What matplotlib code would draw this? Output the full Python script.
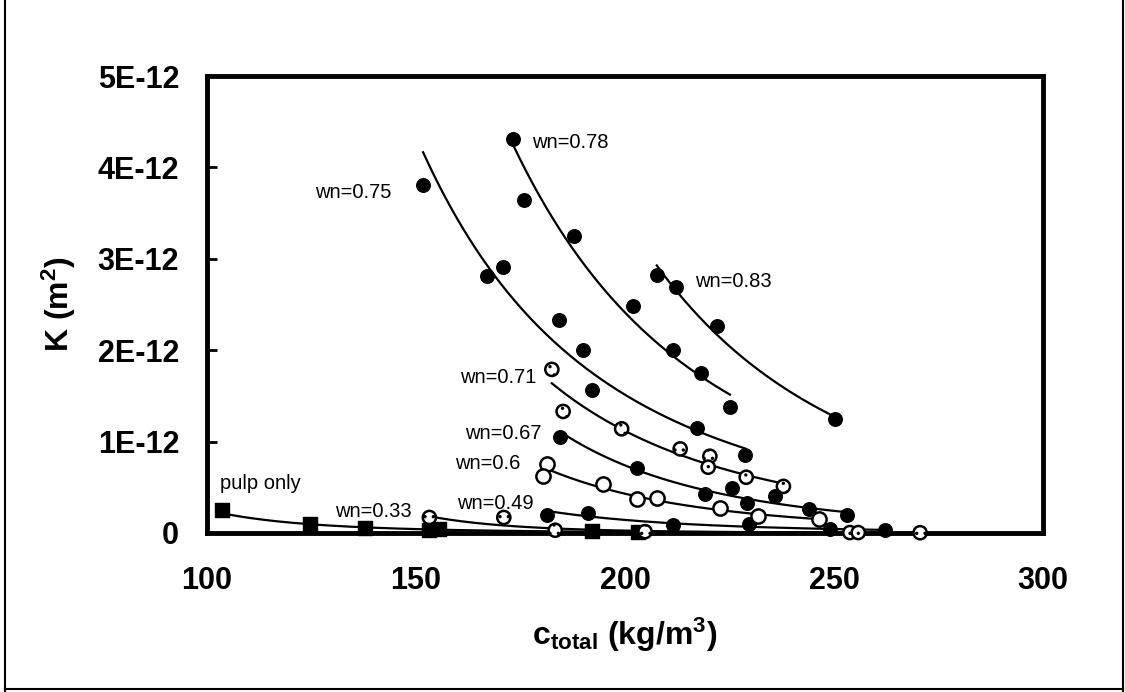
import numpy as np
import matplotlib
matplotlib.use('Agg')
import matplotlib.pyplot as plt
from matplotlib.lines import Line2D

plt.rcParams['font.family'] = ['Liberation Sans', 'DejaVu Sans']
plt.rcParams['mathtext.fontset'] = 'custom'
plt.rcParams['mathtext.rm'] = 'Liberation Sans:bold'
plt.rcParams['mathtext.bf'] = 'Liberation Sans:bold'
plt.rcParams['mathtext.it'] = 'Liberation Sans:bold'
plt.rcParams['mathtext.default'] = 'bf'
plt.rcParams['hatch.linewidth'] = 1.2

# ---- data: c_total (kg/m^3) and K (x 1e-12 m^2) ----
x_pulp = [103.5, 124.6, 137.8, 153.0, 155.5, 192.0, 203.0]
k_pulp = [0.25, 0.10, 0.05, 0.03, 0.04, 0.02, 0.01]

x_033 = [153.2, 171.0, 183.3, 204.8, 253.8, 255.8, 270.6]
k_033 = [0.17, 0.17, 0.03, 0.015, 0.005, 0.005, 0.003]

x_049 = [181.3, 191.1, 211.6, 229.6, 249.0, 262.2]
k_049 = [0.20, 0.22, 0.09, 0.10, 0.04, 0.03]

x_060 = [181.3, 180.5, 194.8, 202.8, 207.7, 222.7, 231.8, 246.3]
k_060 = [0.76, 0.62, 0.54, 0.37, 0.38, 0.27, 0.19, 0.15]

x_067 = [184.4, 202.8, 219.1, 225.5, 229.1, 235.9, 243.9, 253.0]
k_067 = [1.05, 0.71, 0.43, 0.49, 0.33, 0.41, 0.26, 0.20]

x_071 = [182.5, 185.2, 199.2, 213.2, 220.3, 219.9, 229.0, 237.9]
k_071 = [1.79, 1.33, 1.14, 0.92, 0.84, 0.72, 0.61, 0.51]

x_075 = [151.7, 167.0, 170.9, 184.2, 190.0, 192.0, 217.2, 228.7]
k_075 = [3.81, 2.81, 2.91, 2.33, 2.00, 1.57, 1.15, 0.85]

x_078 = [173.3, 175.9, 187.8, 201.8, 211.6, 218.2, 225.1]
k_078 = [4.31, 3.64, 3.25, 2.48, 2.00, 1.75, 1.38]

x_083 = [207.6, 212.1, 222.1, 250.2]
k_083 = [2.82, 2.69, 2.26, 1.25]

labels = ["pulp only", "wn=0.33", "wn=0.49", "wn=0.6", "wn=0.67",
          "wn=0.71", "wn=0.75", "wn=0.78", "wn=0.83"]

y_ticks = [0, 1e-12, 2e-12, 3e-12, 4e-12, 5e-12]
y_ticklabels = ["0", "1E-12", "2E-12", "3E-12", "4E-12", "5E-12"]
x_ticks = [100, 150, 200, 250, 300]

# ---- styling ----
filled = dict(marker='o', facecolor='black', edgecolor='black', s=95, linewidths=1)
openc = dict(marker='o', facecolor='white', edgecolor='black', s=105, linewidths=1.8)
dotted = dict(marker='o', facecolor='white', edgecolor='black', s=90, linewidths=1.8, hatch='..')
square = dict(marker='s', facecolor='black', edgecolor='black', s=95, linewidths=1)

series = [
    (x_pulp, k_pulp, square),
    (x_033, k_033, dotted),
    (x_049, k_049, filled),
    (x_060, k_060, openc),
    (x_067, k_067, filled),
    (x_071, k_071, dotted),
    (x_075, k_075, filled),
    (x_078, k_078, filled),
    (x_083, k_083, filled),
]

# label anchor positions (data coords), horizontal alignment
label_pos = {
    "pulp only": (103.1, 0.54e-12, 'left'),
    "wn=0.33": (130.6, 0.233e-12, 'left'),
    "wn=0.49": (159.7, 0.325e-12, 'left'),
    "wn=0.6": (159.3, 0.76e-12, 'left'),
    "wn=0.67": (161.7, 1.09e-12, 'left'),
    "wn=0.71": (178.9, 1.70e-12, 'right'),
    "wn=0.75": (125.8, 3.73e-12, 'left'),
    "wn=0.78": (177.7, 4.27e-12, 'left'),
    "wn=0.83": (216.7, 2.75e-12, 'left'),
}

fig = plt.figure(figsize=(11.25, 6.92), dpi=100)
ax = fig.add_axes([207/1125, 1-533/692, (1043-207)/1125, (533-76)/692])

for (xs, ks, st) in series:
    xs = np.asarray(xs, float)
    ks = np.asarray(ks, float) * 1e-12
    # power-law trend line
    b, a = np.polyfit(np.log(xs), np.log(ks), 1)
    xf = np.linspace(xs.min(), xs.max(), 200)
    ax.plot(xf, np.exp(a) * xf ** b, color='black', lw=1.6, zorder=2)
    ax.scatter(xs, ks, zorder=3, clip_on=False, **st)

for lab in labels:
    x, y, ha = label_pos[lab]
    ax.text(x, y, lab, fontsize=14.5, ha=ha, va='center', color='black')

ax.set_xlim(100, 300)
ax.set_ylim(0, 5e-12)
ax.set_xticks(x_ticks)
ax.set_xticklabels([str(t) for t in x_ticks])
ax.set_yticks(y_ticks)
ax.set_yticklabels(y_ticklabels)
for lab in ax.get_xticklabels() + ax.get_yticklabels():
    lab.set_fontweight('bold')
    lab.set_fontsize(22)
ax.tick_params(axis='x', length=0, pad=24)
ax.tick_params(axis='y', direction='in', length=7, width=2, pad=20)
for sp in ax.spines.values():
    sp.set_linewidth(3.5)

ax.set_ylabel("K (m$^{2}$)", fontsize=23, fontweight='bold', labelpad=14)
ax.set_xlabel("c$_{total}$ (kg/m$^{3}$)", fontsize=23, fontweight='bold', labelpad=14)

# outer frame lines of the figure
for (xd, yd) in [((5/1125, 5/1125), (0, 1)), ((1123/1125, 1123/1125), (0, 1)),
                 ((5/1125, 1123/1125), (3/692, 3/692))]:
    fig.add_artist(Line2D(xd, yd, transform=fig.transFigure, color='black', lw=1.5))

fig.savefig('out.png', dpi=100)
